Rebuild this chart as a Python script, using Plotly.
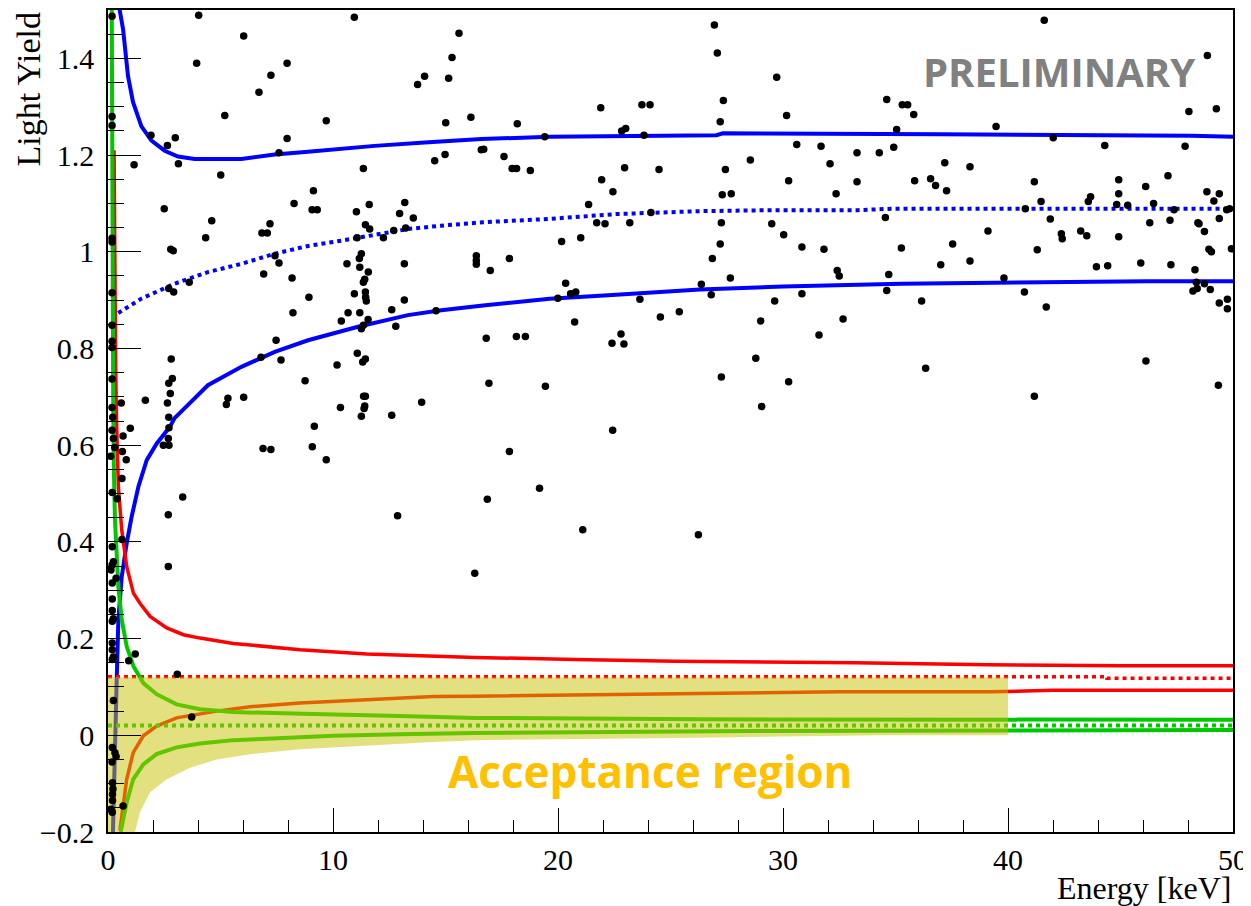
import plotly.graph_objects as go

# ---------------- data ----------------
dots_x = [
    0.18, 4.03, 10.95, 6.03, 15.6, 3.94, 7.96, 15.29, 7.24, 14.07, 15.14, 13.76, 6.71,
    0.18, 0.18, 5.19, 9.70, 15.01, 16.13, 1.91, 2.99, 7.96, 2.64, 7.60, 14.98, 14.52,
    16.59, 1.16, 3.13, 11.35, 5.01, 9.13, 8.27, 11.61, 13.19, 2.50, 9.07, 9.30, 11.04,
    12.96, 13.57, 4.61, 7.20, 11.44, 11.63, 12.70, 13.23, 0.18, 0.18, 6.84, 7.08, 4.34,
    11.07, 12.24, 2.79, 2.90, 11.26, 7.42, 11.17, 16.37, 16.37, 16.37, 10.62, 7.60,
    11.19, 13.17, 11.57, 6.92, 8.18, 11.41, 11.35, 2.70, 2.92, 3.61, 0.18, 10.95, 11.44,
    11.45, 11.48, 8.93, 13.17, 8.22, 10.67, 11.19, 12.61, 14.58, 10.37, 11.56, 11.35,
    11.26, 12.79, 0.18, 0.18, 0.18, 7.47, 11.08, 2.81, 6.80, 7.69, 11.44, 11.32, 10.18,
    2.86, 2.70, 0.18, 8.76, 2.77, 1.66, 0.59, 2.64, 5.33, 5.26, 6.03, 11.36, 11.44,
    13.94, 0.18, 10.33, 11.41, 11.38, 11.26, 12.61, 2.70, 0.21,
    26.95, 27.08, 29.72, 27.35, 21.90, 23.73, 24.09, 30.16, 18.19, 27.21, 22.83, 23.01,
    19.41, 23.82, 16.70, 30.61, 31.69, 33.29, 17.60, 17.96, 18.16, 18.77, 22.96, 24.49,
    27.44, 28.55, 32.09, 21.94, 30.25, 33.29, 22.44, 27.30, 27.70, 32.36, 21.36, 24.13,
    21.72, 22.09, 23.19, 27.26, 29.50, 20.16, 21.01, 30.03, 27.21, 30.84, 31.82, 17.84,
    26.86, 16.99, 32.41, 32.50, 20.34, 26.37, 27.66, 20.56, 20.79, 19.99, 23.64, 26.81,
    29.63, 30.84, 20.74, 24.55, 25.39, 29.01, 32.67, 16.81, 18.15, 18.55, 22.80, 22.40,
    22.93, 31.60, 28.79, 16.93, 19.44, 27.26, 30.25, 29.05,
    41.61, 48.86, 34.61, 35.30, 35.54, 35.81, 35.05, 39.47, 48.04, 49.26, 42.01, 34.28,
    34.92, 44.30, 47.87, 37.19, 38.31, 35.85, 36.56, 36.78, 37.27, 41.17, 44.92, 47.11,
    46.12, 41.47, 43.67, 43.57, 44.92, 44.83, 45.32, 46.47, 48.84, 49.39, 49.15, 40.77,
    47.38, 49.72, 49.85, 34.55, 41.88, 46.30, 47.20, 48.44, 48.49, 49.39, 48.73, 39.11,
    42.37, 42.41, 43.23, 43.50, 44.92, 35.26, 37.54, 41.30, 48.93, 49.04, 49.93, 37.01,
    38.31, 43.93, 44.43, 45.90, 47.24, 34.70, 48.31, 39.82, 34.61, 40.73, 48.37, 48.73,
    48.22, 48.41, 48.99, 36.16, 41.70, 49.39, 49.75, 49.75, 46.13, 36.34, 49.35, 41.17,
    0.18, 0.24, 0.99, 0.67, 0.30, 0.12, 0.64, 0.81, 0.62, 0.19, 0.41, 9.17, 2.71, 2.68,
    2.46, 2.71, 6.89, 7.24, 9.08, 9.70, 3.32, 2.68, 12.87, 0.62, 0.19, 0.24, 0.18, 0.13,
    0.36, 0.19, 2.68, 16.30, 0.19, 0.19, 0.24, 0.19, 0.19, 0.19, 0.24, 0.19, 0.92, 1.21,
    3.08, 0.24, 3.72, 0.19, 0.31, 0.36, 0.18, 0.20, 0.22, 0.20, 0.20, 0.67, 0.13, 0.19,
    22.43, 17.84, 19.18, 16.86, 21.10, 26.24,
]
dots_y = [
    1.487, 1.489, 1.485, 1.446, 1.452, 1.390, 1.390, 1.402, 1.365, 1.363, 1.359, 1.346, 1.330,
    1.280, 1.261, 1.282, 1.271, 1.267, 1.278, 1.241, 1.236, 1.234, 1.220, 1.205, 1.201, 1.188,
    1.211, 1.180, 1.182, 1.172, 1.159, 1.126, 1.100, 1.098, 1.102, 1.089, 1.087, 1.087, 1.083,
    1.079, 1.070, 1.064, 1.058, 1.056, 1.047, 1.044, 1.049, 1.028, 1.020, 1.039, 1.039, 1.029,
    1.029, 1.029, 1.005, 1.002, 0.996, 0.992, 0.986, 0.992, 0.982, 0.974, 0.975, 0.977,
    0.968, 0.975, 0.958, 0.954, 0.946, 0.943, 0.937, 0.924, 0.917, 0.937, 0.915, 0.913, 0.917,
    0.906, 0.898, 0.906, 0.900, 0.874, 0.874, 0.874, 0.880, 0.878, 0.857, 0.860, 0.848,
    0.841, 0.846, 0.848, 0.815, 0.802, 0.817, 0.790, 0.778, 0.782, 0.776, 0.778, 0.772, 0.766,
    0.738, 0.728, 0.737, 0.733, 0.707, 0.693, 0.687, 0.687, 0.697, 0.684, 0.699, 0.701, 0.701,
    0.689, 0.678, 0.678, 0.681, 0.676, 0.660, 0.662, 0.658, 0.658,
    1.469, 1.411, 1.361, 1.313, 1.298, 1.304, 1.304, 1.282, 1.265, 1.269, 1.250, 1.255,
    1.238, 1.241, 1.212, 1.222, 1.218, 1.205, 1.197, 1.172, 1.172, 1.168, 1.174, 1.170,
    1.170, 1.190, 1.182, 1.149, 1.147, 1.145, 1.124, 1.118, 1.120, 1.120, 1.098, 1.081,
    1.060, 1.058, 1.060, 1.060, 1.058, 1.021, 1.029, 1.035, 1.016, 1.010, 1.005, 0.986,
    0.986, 0.961, 0.961, 0.950, 0.935, 0.933, 0.946, 0.913, 0.917, 0.904, 0.902, 0.911,
    0.898, 0.913, 0.855, 0.865, 0.876, 0.857, 0.861, 0.821, 0.825, 0.825, 0.830, 0.811,
    0.809, 0.828, 0.780, 0.728, 0.722, 0.741, 0.731, 0.680,
    1.479, 1.406, 1.315, 1.304, 1.304, 1.284, 1.253, 1.259, 1.290, 1.296, 1.236, 1.205,
    1.216, 1.220, 1.218, 1.184, 1.176, 1.147, 1.151, 1.137, 1.126, 1.145, 1.149, 1.157,
    1.135, 1.104, 1.114, 1.104, 1.120, 1.098, 1.096, 1.100, 1.124, 1.120, 1.105, 1.089,
    1.087, 1.087, 1.089, 1.071, 1.068, 1.060, 1.065, 1.060, 1.058, 1.069, 1.042, 1.043,
    1.037, 1.027, 1.043, 1.033, 1.031, 1.008, 1.016, 1.004, 1.005, 1.000, 1.006, 0.973,
    0.981, 0.969, 0.971, 0.977, 0.973, 0.953, 0.963, 0.946, 0.920, 0.917, 0.937, 0.934,
    0.919, 0.924, 0.922, 0.898, 0.886, 0.894, 0.902, 0.882, 0.774, 0.759, 0.724, 0.701,
    0.631, 0.614, 0.635, 0.619, 0.595, 0.577, 0.587, 0.570, 0.531, 0.502, 0.489, 0.639, 0.636, 0.614,
    0.600, 0.600, 0.593, 0.591, 0.597, 0.570, 0.493, 0.456, 0.454, 0.405, 0.390, 0.359, 0.352, 0.342,
    0.325, 0.315, 0.349, 0.335, 0.282, 0.258, 0.241, 0.236, 0.191, 0.177, 0.162, 0.157, 0.154, 0.168,
    0.126, 0.072, 0.038, -0.025, -0.036, -0.044, -0.055, -0.098, -0.111, -0.122, -0.135, -0.146, -0.153, -0.159,
    0.631, 0.587, 0.511, 0.488, 0.425, 0.415,
]

# blue band (upper / mean / lower)
blue_up_x = [0.45, 0.52, 0.67, 0.89, 1.11, 1.48, 1.93, 2.52, 3.11, 3.85, 5.93, 7.41, 8.89, 10.37,
             11.85, 14.07, 16.59, 19.63, 27.04, 27.33, 33.33, 37.04, 48.15, 50.0]
blue_up_y = [1.60, 1.50, 1.46, 1.363, 1.31, 1.26, 1.23, 1.209, 1.197, 1.192, 1.192, 1.201, 1.207, 1.214,
             1.219, 1.226, 1.233, 1.238, 1.241, 1.245, 1.245, 1.243, 1.240, 1.238]
blue_mid_x = [0.2, 0.41, 1.48, 2.96, 4.44, 5.93, 7.41, 8.89, 10.37, 11.85, 13.33, 14.81, 16.67,
              19.63, 22.59, 26.3, 29.56, 33.33, 34.8, 50.0]
blue_mid_y = [0.862, 0.872, 0.903, 0.934, 0.958, 0.975, 0.996, 1.012, 1.023, 1.035, 1.047, 1.054, 1.061,
              1.068, 1.078, 1.084, 1.086, 1.086, 1.089, 1.089]
blue_lo_x = [0.22, 0.30, 0.38, 0.46, 0.61, 0.83, 1.05, 1.35, 1.72, 2.16, 2.75, 2.96, 4.44, 5.93, 7.41,
             8.89, 11.11, 13.33, 14.81, 16.67, 19.63, 22.59, 26.3, 30.0, 33.33, 35.26, 46.2, 50.0]
blue_lo_y = [-0.20, 0.0, 0.102, 0.239, 0.328, 0.397, 0.452, 0.514, 0.569, 0.603, 0.638, 0.656, 0.724,
             0.762, 0.793, 0.817, 0.845, 0.869, 0.879, 0.889, 0.903, 0.911, 0.922, 0.928, 0.931, 0.934,
             0.939, 0.939]

# red band
red_up_x = [0.27, 0.29, 0.31, 0.34, 0.38, 0.46, 0.61, 0.83, 1.13, 1.42, 1.87, 2.61, 3.35, 4.09, 5.57,
            7.05, 8.53, 11.5, 14.46, 16.31, 20.75, 25.2, 33.2, 39.1, 45.05, 50.0]
red_up_y = [1.21, 1.05, 0.90, 0.76, 0.65, 0.514, 0.425, 0.349, 0.294, 0.273, 0.246, 0.222, 0.208, 0.201,
            0.190, 0.183, 0.177, 0.168, 0.163, 0.161, 0.157, 0.153, 0.150, 0.146, 0.144, 0.144]
red_mid_x = [0.0, 44.4, 44.4, 50.0]
red_mid_y = [0.121, 0.121, 0.118, 0.118]
red_lo_x = [0.53, 0.83, 1.12, 1.57, 2.16, 3.05, 4.83, 6.31, 8.53, 11.5, 14.46, 16.31, 20.0, 26.31,
            32.5, 39.3, 42.0, 50.0]
red_lo_y = [-0.197, -0.091, -0.036, -0.001, 0.019, 0.036, 0.050, 0.059, 0.067, 0.074, 0.080, 0.081,
            0.083, 0.086, 0.090, 0.090, 0.093, 0.093]

# green band
green_up_x = [0.16, 0.18, 0.20, 0.23, 0.26, 0.31, 0.46, 0.61, 0.83, 1.13, 1.57, 2.16, 3.05, 4.09, 5.57,
              7.05, 10.01, 12.98, 16.31, 26.31, 50.0]
green_up_y = [1.60, 1.20, 0.90, 0.70, 0.55, 0.445, 0.308, 0.239, 0.184, 0.143, 0.108, 0.085, 0.064,
              0.054, 0.048, 0.047, 0.043, 0.040, 0.036, 0.033, 0.032]
green_mid_x = [0.0, 50.0]
green_mid_y = [0.020, 0.020]
green_lo_x = [0.56, 0.83, 1.12, 1.57, 2.16, 3.05, 4.09, 5.57, 7.05, 10.01, 12.98, 16.31, 28.5, 40.5, 50.0]
green_lo_y = [-0.20, -0.139, -0.091, -0.06, -0.039, -0.025, -0.017, -0.010, -0.007, -0.001, 0.002,
              0.005, 0.009, 0.011, 0.011]

# acceptance region (polygon)
acc_x = [0.0, 40.0, 40.0, 34.3, 26.3, 16.31, 14.46, 11.5, 8.53, 6.31, 4.83, 3.64, 2.61, 1.87, 1.42, 1.20, 0.0, 0.0]
acc_y = [0.12, 0.12, 0.0, 0.0, -0.005, -0.010, -0.014, -0.021, -0.029, -0.039, -0.050, -0.067, -0.091,
         -0.118, -0.159, -0.20, -0.20, 0.12]

# ---------------- figure ----------------
fig = go.Figure()

def line(xs, ys, color, width, dash="solid"):
    fig.add_trace(go.Scatter(x=xs, y=ys, mode="lines", line=dict(color=color, width=width, dash=dash),
                             hoverinfo="skip"))

BLUE = "#0000FF"
RED = "#FF0000"
GREEN = "#00C800"

line(blue_up_x, blue_up_y, BLUE, 4)
line(blue_mid_x, blue_mid_y, BLUE, 4, "4px,4px")
line(blue_lo_x, blue_lo_y, BLUE, 4)
line(red_up_x, red_up_y, RED, 3.5)
line(red_mid_x, red_mid_y, RED, 3.5, "4px,4px")
line(red_lo_x, red_lo_y, RED, 3.5)
line(green_up_x, green_up_y, GREEN, 4)
line(green_mid_x, green_mid_y, GREEN, 4, "4px,4px")
line(green_lo_x, green_lo_y, GREEN, 4)

fig.add_trace(go.Scatter(x=acc_x, y=acc_y, mode="lines", fill="toself",
                         fillcolor="rgba(198,194,0,0.5)", line=dict(width=0), hoverinfo="skip"))

fig.add_trace(go.Scatter(x=dots_x, y=dots_y, mode="markers",
                         marker=dict(color="black", size=7.5, symbol="circle", line=dict(width=0)),
                         hoverinfo="skip"))

TICKFONT = dict(family="Liberation Serif", size=30, color="black")

fig.update_xaxes(range=[0, 50], tick0=0, dtick=10, ticks="inside", ticklen=24, tickwidth=1.2,
                 tickcolor="black", showline=True, linecolor="black", linewidth=1.5, mirror=True,
                 showgrid=False, zeroline=False, tickfont=TICKFONT, ticklabelstandoff=0,
                 minor=dict(dtick=2, ticks="inside", ticklen=12, tickcolor="black", tickwidth=1.2,
                            showgrid=False))
fig.update_yaxes(range=[-0.2, 1.5], tick0=0, dtick=0.2, ticks="inside", ticklen=33, tickwidth=1.2,
                 tickcolor="black", showline=True, linecolor="black", linewidth=1.5, mirror=True,
                 showgrid=False, zeroline=False, tickfont=TICKFONT, ticklabelstandoff=6,
                 minor=dict(dtick=0.05, ticks="inside", ticklen=16, tickcolor="black", tickwidth=1.2,
                            showgrid=False))

# the page body has an 8px margin, so the figure is sized 8px smaller and margins shifted
fig.add_annotation(text="Energy [keV]", xref="paper", yref="paper", x=1.0, y=-0.068,
                   xanchor="right", yanchor="middle", showarrow=False,
                   font=dict(family="Liberation Serif", size=32, color="black"))
fig.add_annotation(text="Light Yield", xref="paper", yref="paper", x=-0.0711, y=1.0,
                   xanchor="center", yanchor="top", textangle=-90, showarrow=False,
                   font=dict(family="Liberation Serif", size=34, color="black"))
fig.add_annotation(text="<b>PRELIMINARY</b>", xref="x", yref="y", x=42.27, y=1.373,
                   xanchor="center", yanchor="middle", showarrow=False,
                   font=dict(family="Open Sans", size=40, color="#808080"))
fig.add_annotation(text="<b>Acceptance region</b>", xref="x", yref="y", x=24.13, y=-0.074,
                   xanchor="center", yanchor="middle", showarrow=False,
                   font=dict(family="Open Sans", size=44, color="#FFC000"))

fig.update_layout(width=1243, height=898, margin=dict(l=100, r=18, t=0, b=74),
                  paper_bgcolor="white", plot_bgcolor="white", showlegend=False)

fig.write_html("out.html")
